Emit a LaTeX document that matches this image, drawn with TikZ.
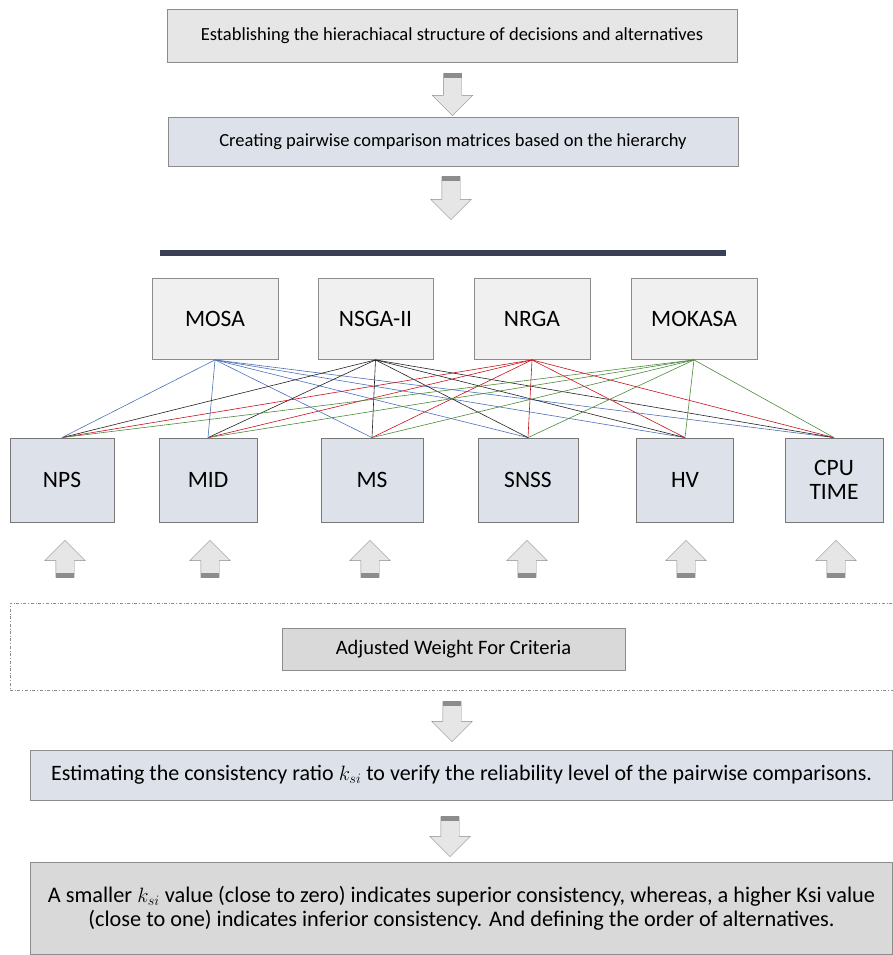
\documentclass[tikz,border=0pt]{standalone}
\usepackage{fontspec}
\setmainfont{Carlito}
\usetikzlibrary{arrows.meta, positioning, shapes.arrows, calc}
\definecolor{stagegray}{HTML}{E6E6E6}
\definecolor{stageblue}{HTML}{DDE2EA}
\definecolor{methodgray}{HTML}{F0F0F0}
\definecolor{weightgray}{HTML}{D9D9D9}
\definecolor{framegray}{HTML}{8C8C8C}
\definecolor{barnavy}{HTML}{3A3F55}
\definecolor{linkblue}{HTML}{4A70B8}
\definecolor{linkred}{HTML}{C8101A}
\definecolor{linkgreen}{HTML}{4C8A3A}
\definecolor{linkblack}{HTML}{222222}
\tikzset{
    stage box/.style = {
      draw=framegray, thick, inner sep=2pt, align=center,
      font=\fontsize{22}{25}\selectfont,
    },
    method box/.style = {
      draw=framegray, fill=methodgray, thick, minimum height=81pt,
      font=\fontsize{23.5}{26}\selectfont,
    },
    criterion box/.style = {
      draw=framegray!85!black, fill=stageblue, thick, minimum height=84pt,
      align=center, font=\fontsize{23.5}{24}\selectfont,
    },
    block arrow/.style = {
      single arrow, draw=framegray, fill=stagegray, inner sep=9pt,
      minimum width=40pt, single arrow head extend=11pt,
    },
    block down/.style = {block arrow, shape border rotate=270},
    block up/.style = {block arrow, shape border rotate=90},
    tail stripe/.style = {fill=black!45!white},
    link/.style = {semithick},
}

\begin{document}
\begin{tikzpicture}[x=1pt, y=-1pt]
    \useasboundingbox (0,0) rectangle (893,955);

    %% Top of the flow: hierarchy and pairwise matrices
    \node [stage box, fill=stagegray, minimum width=570pt, minimum height=53pt,
      font=\fontsize{18.5}{22}\selectfont] (structure) at (452,36)
      {Establishing the hierachiacal structure of decisions and alternatives};
    \node [stage box, fill=stageblue, minimum width=570pt, minimum height=49pt,
      font=\fontsize{18.5}{22}\selectfont] (pairwise) at (453,142)
      {Creating pairwise comparison matrices based on the hierarchy};
    \node [block down, minimum height=42pt] (a1) at ($(structure.south)!0.5!(pairwise.north)$) {};
    \node [block down, minimum height=43pt] (a2) at (451,193.5) {};

    %% Bar over the alternatives
    \coordinate (bar-l) at (160,253);
    \coordinate (bar-r) at (726,253);
    \draw [barnavy, line width=5.5pt] (bar-l) -- (bar-r);

    %% Alternatives and criteria
    \foreach \name/\x/\w/\txt in {mosa/215/126/MOSA, nsga/375.5/115/NSGA-II,
                                  nrga/532/116/NRGA, mokasa/694/126/MOKASA}{%
      \node [method box, minimum width=\w pt] (\name) at (\x,319) {\txt};
    }
    \foreach \name/\x/\w/\txt in {nps/62/104/NPS, mid/208/98/MID, ms/372/102/MS,
                                  snss/528/100/SNSS, hv/685/97/HV, cpu/834/98/{CPU\\TIME}}{%
      \node [criterion box, minimum width=\w pt] (\name) at (\x,480) {\txt};
    }

    %% Every alternative is compared on every criterion
    \foreach \a/\col in {mosa/linkblue, nsga/linkblack, nrga/linkred, mokasa/linkgreen}{%
      \foreach \k in {nps,mid,ms,snss,hv,cpu}{%
        \draw [link, \col] (\a.south) -- (\k.north);
      }
    }

    %% Weights feeding the criteria
    \node [draw=framegray, dash dot, thick, minimum width=886pt, minimum height=87pt]
      (weights) at (453,646.5) {};
    \node [stage box, fill=weightgray, minimum width=343pt, minimum height=42pt,
      font=\fontsize{20.5}{24}\selectfont] (adjusted) at (453.5,649) {Adjusted Weight For Criteria};
    \foreach \k/\x in {nps/65, mid/210, ms/370, snss/527, hv/686, cpu/836}{%
      \node [block up, minimum height=37pt] (up-\k) at (\x,563.5) {};
      \fill [tail stripe] ([xshift=-9pt]up-\k.tail) rectangle ([xshift=9pt, yshift=5pt]up-\k.tail);
    }

    %% Consistency check
    \node [block down, minimum height=40pt] (a3) at (452,717) {};
    \node [stage box, fill=stageblue, minimum width=862pt, minimum height=50pt]
      (consistency) at (461.5,775)
      {Estimating the consistency ratio $k_{si}$ to verify the reliability level of the pairwise comparisons.};
    \node [block down, minimum height=40pt] (a4) at (450,832) {};
    \node [stage box, fill=weightgray, minimum width=862pt, minimum height=92pt,
      font=\fontsize{22.3}{23.5}\selectfont] (ordering) at (461.5,908)
      {A smaller $k_{si}$ value (close to zero) indicates superior consistency, whereas, a higher Ksi value\\
       (close to one) indicates inferior consistency. And defining the order of alternatives.};

    %% Dark bands at the arrow tails
    \foreach \n in {a1,a2,a3,a4}{%
      \fill [tail stripe] ([xshift=-9pt]\n.tail) rectangle ([xshift=9pt, yshift=-5pt]\n.tail);
    }
\end{tikzpicture}
\end{document}
